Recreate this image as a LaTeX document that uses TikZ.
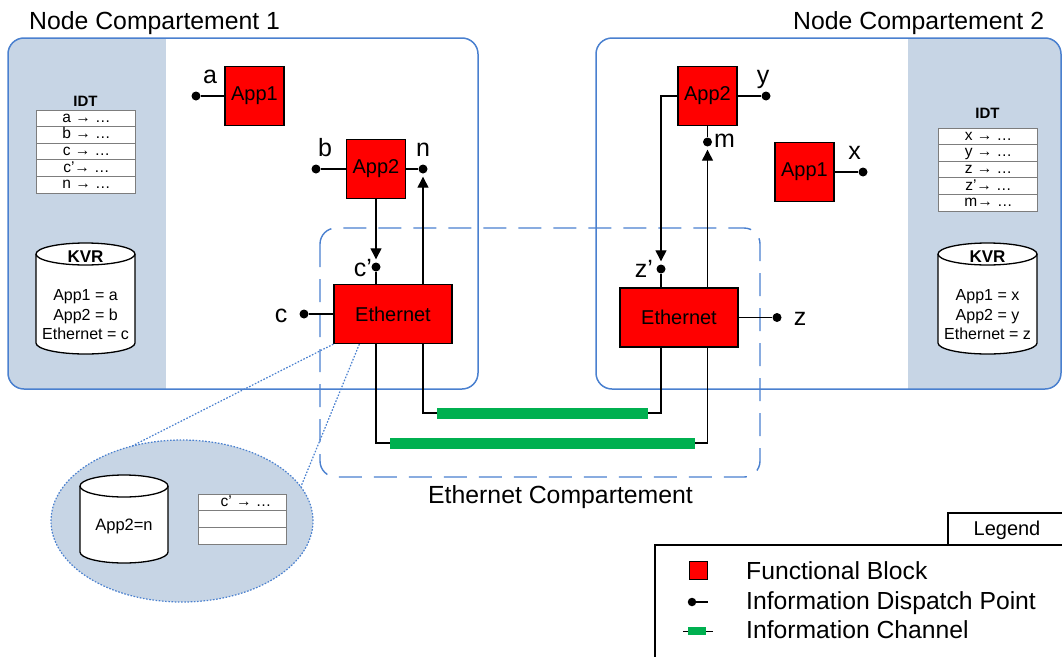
\documentclass[tikz,border=0pt]{standalone}
\usepackage{fontspec}
\setmainfont{Liberation Sans}
\usetikzlibrary{shapes.geometric,arrows.meta}

\definecolor{compblue}{RGB}{74,128,207}
\definecolor{panel}{RGB}{199,213,229}
\definecolor{blockred}{RGB}{255,0,0}
\definecolor{chgreen}{RGB}{0,176,80}
\definecolor{tablegrey}{RGB}{125,125,125}

\tikzset{
  comp/.style={draw=compblue, line width=1.5pt, rounded corners=16pt},
  ethcomp/.style={draw=compblue, line width=1.4pt, dash pattern=on 23pt off 12pt, rounded corners=16pt},
  title/.style={inner sep=0pt, font=\fontsize{24.8}{29}\selectfont},
  fb/.style={draw=black, fill=blockred, line width=1.3pt, minimum width=59pt, minimum height=59pt,
             inner sep=0pt, font=\fontsize{20}{24}\selectfont},
  ethblock/.style={fb, minimum width=118pt},
  idp/.style={circle, fill=black, minimum size=9pt, inner sep=0pt},
  lbl/.style={inner sep=0pt, font=\fontsize{25}{29}\selectfont},
  wire/.style={line width=1.3pt},
  flow/.style={wire, -{Triangle[length=11pt,width=11pt]}, shorten >=3pt},
  chan/.style={line width=11pt, draw=chgreen},
  tabline/.style={draw=tablegrey, line width=0.9pt},
  tabtitle/.style={inner sep=0pt, font=\bfseries\fontsize{15}{18}\selectfont},
  rowtxt/.style={inner sep=0pt, text height=11pt, text depth=3pt, font=\fontsize{15.5}{17}\selectfont},
  cyl/.style={draw=black, line width=1.3pt},
  kvrtitle/.style={inner sep=0pt, font=\bfseries\fontsize{17}{20}\selectfont},
  kvrtxt/.style={inner sep=0pt, align=center, font=\fontsize{16}{19.5}\selectfont},
  legline/.style={draw=black, line width=1.2pt},
  legtext/.style={inner sep=0pt, font=\fontsize{24.7}{28}\selectfont},
}

\begin{document}
\begin{tikzpicture}[x=1pt,y=-1pt]
\useasboundingbox (0,0) rectangle (1062,656);
\begin{scope}
\clip (0,0) rectangle (1062,656);

% ---------- node compartments ----------
\begin{scope}
  \clip[rounded corners=16pt] (8,38) rectangle (478,389);
  \fill[panel] (8,38) rectangle (166,389);
\end{scope}
\draw[comp] (8,38) rectangle (478,389);

\begin{scope}
  \clip[rounded corners=16pt] (596,38) rectangle (1061,389);
  \fill[panel] (908,38) rectangle (1061,389);
\end{scope}
\draw[comp] (596,38) rectangle (1061,389);

% ---------- ethernet compartment ----------
\draw[ethcomp] (320,228) rectangle (760,477);

% ---------- titles ----------
\node[title, anchor=base west] (titleL) at (29,29) {Node Compartement 1};
\node[title, anchor=base west] (titleR) at (793,29) {Node Compartement 2};
\node[title, anchor=base west] (titleE) at (428,503) {Ethernet Compartement};

% ---------- IDT tables ----------
\node[tabtitle] (idtLt) at (85.5,101) {IDT};
\draw[tabline, fill=white] (36,110) rectangle (135,193);
\foreach \k in {1,...,4} \draw[tabline] (36,{110+16.6*\k}) -- (135,{110+16.6*\k});
\foreach \t [count=\k] in {a → …,b → …,c → …,c’→ …,n → …}
  \node[rowtxt] (idtL-\k) at (86.5,{110+16.6*(\k-0.5)}) {\t};

\node[tabtitle] (idtRt) at (987.5,113) {IDT};
\draw[tabline, fill=white] (938,128) rectangle (1037,211);
\foreach \k in {1,...,4} \draw[tabline] (938,{128+16.6*\k}) -- (1037,{128+16.6*\k});
\foreach \t [count=\k] in {x → …,y → …,z → …,z’→ …,m→ …}
  \node[rowtxt] (idtR-\k) at (988.5,{128+16.6*(\k-0.5)}) {\t};

% ---------- KVR drums ----------
\fill[white] (36,254) -- (36,343) arc[start angle=180,end angle=0,x radius=49.5,y radius=11] -- (135,254) -- cycle;
\draw[cyl] (36,254) -- (36,343) arc[start angle=180,end angle=0,x radius=49.5,y radius=11] -- (135,254);
\draw[cyl, fill=white] (85.5,254) ellipse[x radius=49.5, y radius=11];
\node[kvrtitle] (kvrLt) at (85.5,257) {KVR};
\node[kvrtxt] (kvrL) at (85.5,315) {App1 = a\\App2 = b\\Ethernet = c};

\fill[white] (938,254) -- (938,343) arc[start angle=180,end angle=0,x radius=49.5,y radius=11] -- (1037,254) -- cycle;
\draw[cyl] (938,254) -- (938,343) arc[start angle=180,end angle=0,x radius=49.5,y radius=11] -- (1037,254);
\draw[cyl, fill=white] (987.5,254) ellipse[x radius=49.5, y radius=11];
\node[kvrtitle] (kvrRt) at (987.5,257) {KVR};
\node[kvrtxt] (kvrR) at (987.5,315) {App1 = x\\App2 = y\\Ethernet = z};

% ---------- functional blocks and dispatch points ----------
\node[fb] (LApp1) at (254.5,96) {App1};
\node[fb] (LApp2) at (376,169) {App2};
\node[ethblock] (LEth) at (393,314) {Ethernet};
\node[idp] (dotA) at (196,96) {};
\node[idp] (dotB) at (316,169) {};
\node[idp] (dotN) at (423,169) {};
\node[idp] (dotCp) at (376,267) {};
\node[idp] (dotC) at (304,314) {};

\node[fb] (RApp2) at (707.5,96) {App2};
\node[fb] (RApp1) at (804.5,172) {App1};
\node[ethblock] (REth) at (679,317.5) {Ethernet};
\node[idp] (dotY) at (766,96) {};
\node[idp] (dotM) at (707.5,142) {};
\node[idp] (dotX) at (863,172) {};
\node[idp] (dotZp) at (661,269) {};
\node[idp] (dotZ) at (777,317.5) {};

% ---------- labels ----------
\node[lbl, anchor=base] (labA) at (210,83) {a};
\node[lbl, anchor=base] (labB) at (325,156) {b};
\node[lbl, anchor=base] (labN) at (423,156) {n};
\node[lbl, anchor=base east] (labCp) at (372,276) {c’};
\node[lbl, anchor=base] (labC) at (281,322) {c};
\node[lbl, anchor=base] (labY) at (763,83) {y};
\node[lbl, anchor=base] (labM) at (724.5,147) {m};
\node[lbl, anchor=base] (labX) at (854.5,159) {x};
\node[lbl, anchor=base east] (labZp) at (653,277) {z’};
\node[lbl, anchor=base] (labZ) at (800,325) {z};

% ---------- zoom of the ethernet block ----------
\node[ellipse, minimum width=262pt, minimum height=162pt, inner sep=0pt, outer sep=0pt,
      fill=panel, draw=compblue, line width=1.2pt, dash pattern=on 1.6pt off 1.6pt] (zoom) at (182,521) {};
\draw[compblue, line width=1.2pt, dash pattern=on 1.6pt off 1.6pt] (LEth.south west) -- (zoom.124.7);
\draw[compblue, line width=1.2pt, dash pattern=on 1.6pt off 1.6pt] ([xshift=26pt]LEth.south west) -- (zoom.16);

\fill[white] (80,486) -- (80,552) arc[start angle=180,end angle=0,x radius=44,y radius=11] -- (168,486) -- cycle;
\draw[cyl] (80,486) -- (80,552) arc[start angle=180,end angle=0,x radius=44,y radius=11] -- (168,486);
\draw[cyl, fill=white] (124,486) ellipse[x radius=44, y radius=11];
\node[inner sep=0pt, anchor=base, font=\fontsize{16.5}{20}\selectfont] (kvrZ) at (124,530) {App2=n};

\draw[tabline, fill=white] (198,494) rectangle (286,544);
\foreach \k in {1,2} \draw[tabline] (198,{494+16.67*\k}) -- (286,{494+16.67*\k});
\node[rowtxt] (idtZ-1) at (246,{494+8.33}) {c’ → …};

% ---------- connectors ----------
\draw[wire] (dotA) -- (LApp1);
\draw[wire] (dotB) -- (LApp2);
\draw[wire] (LApp2) -- (dotN);
\draw[flow] (LApp2) -- (dotCp);
\draw[wire] (dotCp) -- (dotCp |- LEth.north);
\draw[wire] (dotC) -- (LEth);
\draw[flow] (LEth.north -| dotN) -- (dotN);

\draw[wire] (RApp2) -- (dotY);
\draw[wire] (RApp2) -- (dotM);
\coordinate (zpTurn) at (661,96);
\draw[flow] (RApp2.west) -- (zpTurn) -- (dotZp);
\draw[wire] (dotZp) -- (dotZp |- REth.north);
\draw[flow] (REth.north -| dotM) -- (dotM);
\draw[wire] (RApp1) -- (dotX);
\draw[wire] (REth) -- (dotZ);

% ---------- information channels ----------
\coordinate (outerL) at (376,443);
\coordinate (outerR) at (707.5,443);
\coordinate (innerL) at (423,413);
\coordinate (innerR) at (661,413);
\draw[wire] (LEth.south -| dotCp) -- (outerL) -- (outerR) -- (REth.south -| dotM);
\draw[wire] (LEth.south -| dotN) -- (innerL) -- (innerR) -- (REth.south -| dotZp);
\draw[chan] (390,443) -- (695,443);
\draw[chan] (437,413) -- (648,413);

% ---------- legend ----------
\draw[legline, fill=white] (655,545) rectangle (1075,670);
\draw[legline, fill=white] (948,513) rectangle (1075,545);
\node[inner sep=0pt, anchor=base, font=\fontsize{20}{24}\selectfont] (legTitle) at (1007,535) {Legend};
\node[draw=black, fill=blockred, minimum size=18pt, inner sep=0pt, line width=1pt] (legFB) at (698,570) {};
\node[idp, minimum size=8.5pt] (legDot) at (692,602) {};
\coordinate (legDotEnd) at (708,602);
\draw[wire] (legDot) -- (legDotEnd);
\coordinate (legChL) at (683,631);
\coordinate (legChR) at (713,631);
\draw[line width=1pt] (legChL) -- (legChR);
\draw[line width=8pt, draw=chgreen] (688,631) -- (706,631);
\node[legtext, anchor=base west] (legT1) at (746,579) {Functional Block};
\node[legtext, anchor=base west] (legT2) at (746,609) {Information Dispatch Point};
\node[legtext, anchor=base west] (legT3) at (746,638) {Information Channel};
\end{scope}
\end{tikzpicture}
\end{document}
